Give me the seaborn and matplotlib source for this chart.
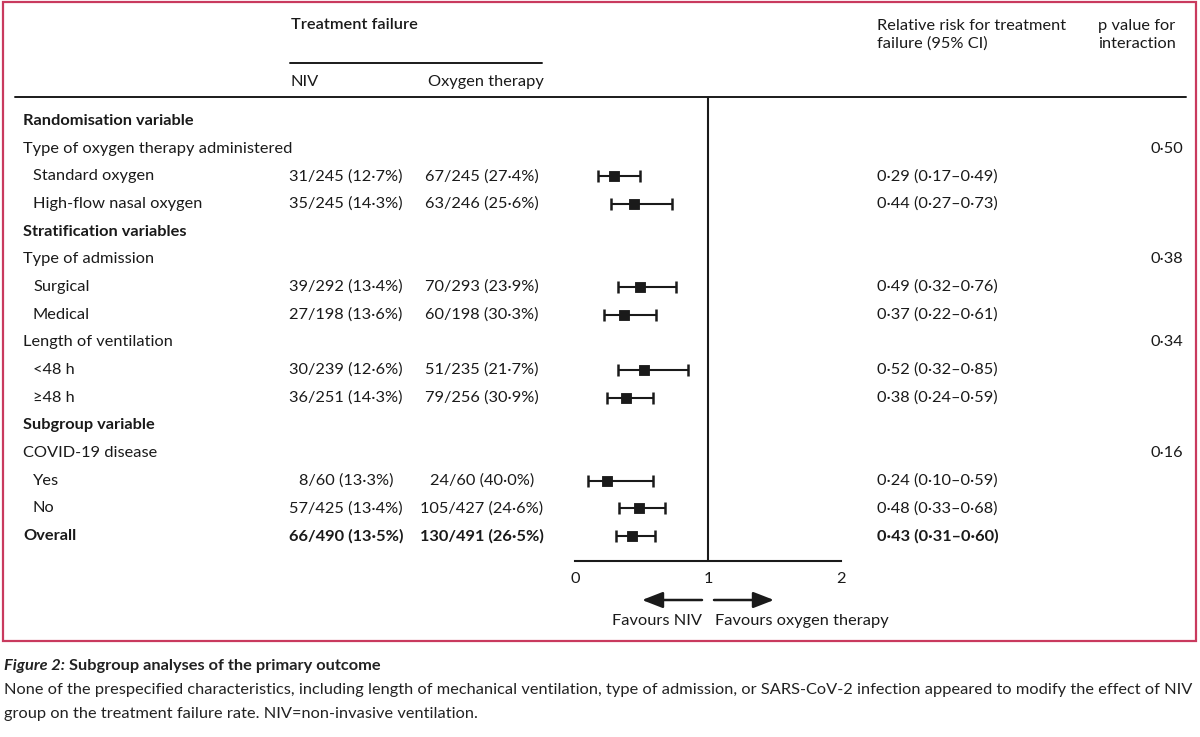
import numpy as np
import pandas as pd
import matplotlib
matplotlib.use('Agg')
import matplotlib.pyplot as plt
import seaborn as sns
from matplotlib.patches import Rectangle

# table rows (label, indent level: 0 = bold header, 1 = group, 2 = subgroup)
labels = ['Randomisation variable', 'Type of oxygen therapy administered', 'Standard oxygen',
          'High-flow nasal oxygen', 'Stratification variables', 'Type of admission', 'Surgical',
          'Medical', 'Length of ventilation', '<48 h', '\u226548 h', 'Subgroup variable',
          'COVID-19 disease', 'Yes', 'No', 'Overall']
levels = [0, 1, 2, 2, 0, 1, 2, 2, 1, 2, 2, 0, 1, 2, 2, 0]
niv = ['', '', '31/245 (12\u00b77%)', '35/245 (14\u00b73%)', '', '', '39/292 (13\u00b74%)',
       '27/198 (13\u00b76%)', '', '30/239 (12\u00b76%)', '36/251 (14\u00b73%)', '', '',
       '8/60 (13\u00b73%)', '57/425 (13\u00b74%)', '66/490 (13\u00b75%)']
oxy = ['', '', '67/245 (27\u00b74%)', '63/246 (25\u00b76%)', '', '', '70/293 (23\u00b79%)',
       '60/198 (30\u00b73%)', '', '51/235 (21\u00b77%)', '79/256 (30\u00b79%)', '', '',
       '24/60 (40\u00b70%)', '105/427 (24\u00b76%)', '130/491 (26\u00b75%)']
rr = [np.nan, np.nan, 0.29, 0.44, np.nan, np.nan, 0.49, 0.37, np.nan, 0.52, 0.38,
      np.nan, np.nan, 0.24, 0.48, 0.43]
lo = [np.nan, np.nan, 0.17, 0.27, np.nan, np.nan, 0.32, 0.22, np.nan, 0.32, 0.24,
      np.nan, np.nan, 0.10, 0.33, 0.31]
hi = [np.nan, np.nan, 0.49, 0.73, np.nan, np.nan, 0.76, 0.61, np.nan, 0.85, 0.59,
      np.nan, np.nan, 0.59, 0.68, 0.60]
pvals = ['', '0\u00b750', '', '', '', '0\u00b738', '', '', '0\u00b734', '', '', '', '0\u00b716', '', '', '']
xticks = [0, 1, 2]

df = pd.DataFrame({'label': labels, 'level': levels, 'niv': niv, 'oxy': oxy,
                   'rr': rr, 'lo': lo, 'hi': hi, 'p': pvals})
df['row'] = np.arange(len(df))

sns.set_style('white')
plt.rcParams['font.family'] = ['Lato', 'DejaVu Sans']
fs = 11.8
ink = '#1a1a1a'

fig = plt.figure(figsize=(12, 7.37), dpi=100)

# background axes in pixel coordinates for the table text
bg = fig.add_axes([0, 0, 1, 1])
bg.set_xlim(0, 1200)
bg.set_ylim(737, 0)
bg.axis('off')

row_y0, row_dy = 121, 27.67
ax_top, ax_bot = 97, 561

bg.add_patch(Rectangle((3, 2), 1193, 639, fill=False, edgecolor='#c93a5e', lw=1.6))

# headers
bg.text(291, 25, 'Treatment failure', fontsize=fs, va='center', ha='left', fontweight='semibold', color=ink)
bg.plot([290, 542], [63, 63], color=ink, lw=1.4)
bg.text(291, 82, 'NIV', fontsize=fs, va='center', ha='left', color=ink)
bg.text(428, 82, 'Oxygen therapy', fontsize=fs, va='center', ha='left', color=ink)
bg.text(877, 35, 'Relative risk for treatment\nfailure (95% CI)', fontsize=fs, va='center', ha='left',
        linespacing=1.35, color=ink)
bg.text(1098, 35, 'p value for\ninteraction', fontsize=fs, va='center', ha='left', linespacing=1.35,
        color=ink)
bg.plot([15, 1186], [ax_top, ax_top], color=ink, lw=1.4)

for _, r in df.iterrows():
    y = row_y0 + r['row'] * row_dy
    bold = 'bold' if r['level'] == 0 else 'normal'
    x = 33 if r['level'] == 2 else 23
    bg.text(x, y, r['label'], fontsize=fs, va='center', ha='left', fontweight=bold, color=ink)
    if r['niv']:
        bg.text(346, y, r['niv'], fontsize=fs, va='center', ha='center', fontweight=bold, color=ink)
        bg.text(482, y, r['oxy'], fontsize=fs, va='center', ha='center', fontweight=bold, color=ink)
    if not np.isnan(r['rr']):
        txt = f"{r['rr']:.2f} ({r['lo']:.2f}\u2013{r['hi']:.2f})".replace('.', '\u00b7')
        bg.text(877, y, txt, fontsize=fs, va='center', ha='left', fontweight=bold, color=ink)
    if r['p']:
        bg.text(1183, y, r['p'], fontsize=fs, va='center', ha='right', color=ink)

# forest plot axes aligned with table rows
x0, x2 = 575, 841
ymin = (ax_bot - row_y0) / row_dy
ymax = (ax_top - row_y0) / row_dy
ax = fig.add_axes([x0 / 1200, 1 - ax_bot / 737, (x2 - x0) / 1200, (ax_bot - ax_top) / 737])
ax.set_xlim(0, 2)
ax.set_ylim(ymin, ymax)
ax.patch.set_alpha(0)

est = df.dropna(subset=['rr'])
ax.errorbar(est['rr'], est['row'], xerr=[est['rr'] - est['lo'], est['hi'] - est['rr']],
            fmt='none', ecolor=ink, elinewidth=1.5, capsize=4.5, capthick=1.8)
sns.scatterplot(data=est, x='rr', y='row', marker='s', s=60, color=ink,
                edgecolor=ink, ax=ax, legend=False, zorder=3)
ax.axvline(1, color=ink, lw=1.5)

for s in ['top', 'right', 'left']:
    ax.spines[s].set_visible(False)
ax.spines['bottom'].set_linewidth(1.5)
ax.spines['bottom'].set_color(ink)
ax.set_xticks(xticks)
ax.set_xticklabels([str(t) for t in xticks], fontsize=fs)
ax.tick_params(axis='x', direction='in', length=8, width=1.5, pad=8, colors=ink)
ax.set_yticks([])
ax.set_xlabel('')
ax.set_ylabel('')

# favours arrows
bg.annotate('', xy=(642, 600), xytext=(702, 600),
            arrowprops=dict(arrowstyle='-|>,head_length=0.9,head_width=0.35', color=ink, lw=1.8,
                            mutation_scale=14, shrinkA=0, shrinkB=0))
bg.annotate('', xy=(774, 600), xytext=(714, 600),
            arrowprops=dict(arrowstyle='-|>,head_length=0.9,head_width=0.35', color=ink, lw=1.8,
                            mutation_scale=14, shrinkA=0, shrinkB=0))
bg.text(702, 621, 'Favours NIV', fontsize=fs, va='center', ha='right', color=ink)
bg.text(715, 621, 'Favours oxygen therapy', fontsize=fs, va='center', ha='left', color=ink)

# caption
cfs = 11.75
cap = bg.text(4, 666, 'Figure 2:', fontsize=cfs, va='center', ha='left', fontweight='bold',
              style='italic', color='#222222')
fig.canvas.draw()
bb = cap.get_window_extent()
bg.text(4 + bb.width + 4, 666, 'Subgroup analyses of the primary outcome', fontsize=cfs,
        va='center', ha='left', fontweight='bold', color='#222222')
bg.text(4, 690, 'None of the prespecified characteristics, including length of mechanical ventilation, '
        'type of admission, or SARS-CoV-2 infection appeared to modify the effect of NIV',
        fontsize=cfs, va='center', ha='left', color='#222222')
bg.text(4, 714, 'group on the treatment failure rate. NIV=non-invasive ventilation.',
        fontsize=cfs, va='center', ha='left', color='#222222')

fig.savefig('out.png', dpi=100)
